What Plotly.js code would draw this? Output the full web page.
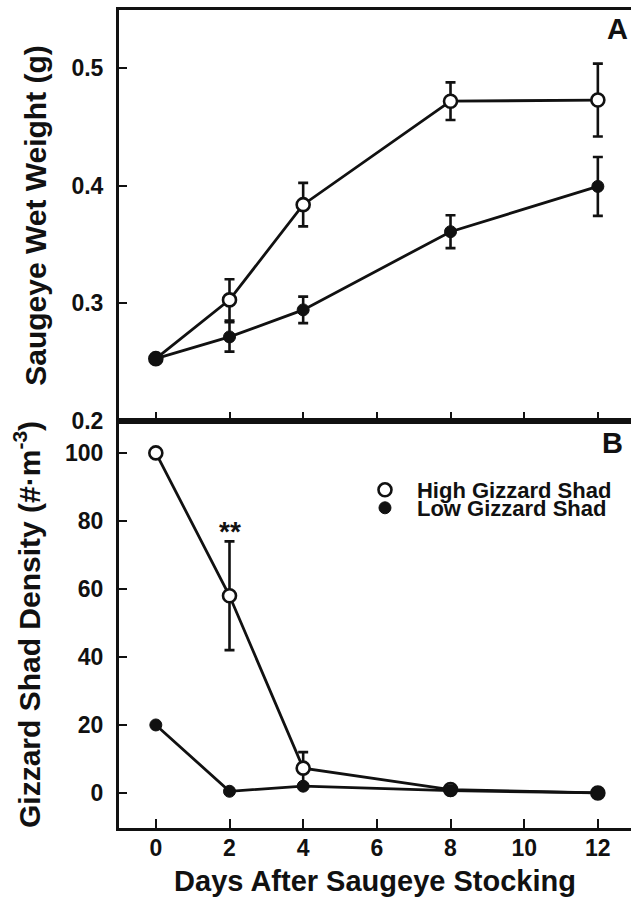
<!DOCTYPE html>
<html>
<head>
<meta charset="utf-8">
<script src="https://cdn.plot.ly/plotly-3.0.1.min.js"></script>
<style>
html,body{margin:0;padding:0;background:#fff;overflow:hidden}
#chart{width:631px;height:899px}
</style>
</head>
<body>
<div id="chart"></div>
<script>
// ---- data ----
const days = [0, 2, 4, 8, 12];
const seriesNames = ['High Gizzard Shad', 'Low Gizzard Shad'];

const weightHigh    = [0.253, 0.303, 0.384, 0.472, 0.473];
const weightHighErr = [0, 0.0175, 0.0185, 0.016, 0.031];
const weightLow     = [0.253, 0.2715, 0.2945, 0.361, 0.3995];
const weightLowErr  = [0, 0.0125, 0.0113, 0.014, 0.025];

const shadHigh    = [100, 58, 7.3, 1, 0];
const shadHighErr = [0, 16, 4.7, 0, 0];
const shadLow     = [20, 0.5, 2, 0.7, 0];
const shadLowErr  = [0, 0, 0, 0, 0];

const xTickVals = [0, 2, 4, 6, 8, 10, 12];
const xTickText = ['0', '2', '4', '6', '8', '10', '12'];
const weightTickVals = [0.2, 0.3, 0.4, 0.5];
const weightTickText = ['0.2', '0.3', '0.4', '0.5'];
const shadTickVals = [0, 20, 40, 60, 80, 100];
const shadTickText = ['0', '20', '40', '60', '80', '100'];

const panelLabels = ['A', 'B'];
const sigMark = {day: 2, value: 77, text: '**'};

// ---- style ----
const INK = '#111111';
const FONT = 'Liberation Sans, Arial, Helvetica, sans-serif';
function f(size) { return {size: size, family: FONT, weight: 'bold', color: INK}; }

function lineTrace(y, err, xa, ya) {
  return {
    x: days, y: y, mode: 'lines', xaxis: xa, yaxis: ya, showlegend: false,
    line: {color: INK, width: 2.8},
    error_y: {type: 'data', array: err, symmetric: true, color: INK, thickness: 2.6, width: 5},
    hoverinfo: 'skip'
  };
}
function openMarkers(y, xa, ya, name, show, lg) {
  return {
    x: days, y: y, mode: 'markers', xaxis: xa, yaxis: ya, name: name,
    showlegend: show, legend: lg,
    marker: {symbol: 'circle', size: 13, color: '#ffffff', line: {color: INK, width: 2.6}}
  };
}
function filledMarkers(y, xa, ya, name, show, lg) {
  return {
    x: days, y: y, mode: 'markers', xaxis: xa, yaxis: ya, name: name,
    showlegend: show, legend: lg,
    marker: {symbol: 'circle', size: 12, color: INK, line: {color: INK, width: 1}}
  };
}

const data = [
  lineTrace(weightHigh, weightHighErr, 'x', 'y'),
  lineTrace(weightLow, weightLowErr, 'x', 'y'),
  openMarkers(weightHigh, 'x', 'y', seriesNames[0], false, 'legend'),
  filledMarkers(weightLow, 'x', 'y', seriesNames[1], false, 'legend2'),
  lineTrace(shadHigh, shadHighErr, 'x2', 'y2'),
  lineTrace(shadLow, shadLowErr, 'x2', 'y2'),
  openMarkers(shadHigh, 'x2', 'y2', seriesNames[0], true, 'legend'),
  filledMarkers(shadLow, 'x2', 'y2', seriesNames[1], true, 'legend2')
];

const axisCommon = {
  showgrid: false, zeroline: false, showline: true, linewidth: 3, linecolor: INK,
  ticks: 'inside', tickwidth: 2, tickcolor: INK
};
const split = 0.4976;

const layout = {
  width: 631, height: 899,
  margin: {l: 119, r: 0, t: 10, b: 71},
  paper_bgcolor: '#ffffff', plot_bgcolor: '#ffffff',
  font: f(22),
  xaxis: Object.assign({}, axisCommon, {
    domain: [0, 1], anchor: 'y', range: [-1, 12.9], mirror: true,
    tickmode: 'array', tickvals: xTickVals, ticktext: xTickText, ticklen: 9,
    showticklabels: false
  }),
  yaxis: Object.assign({}, axisCommon, {
    domain: [split, 1], anchor: 'x', range: [0.2, 0.5496], mirror: false,
    tickmode: 'array', tickvals: weightTickVals, ticktext: weightTickText, ticklen: 8,
    tickfont: f(23), ticklabelstandoff: 8,
    title: {text: 'Saugeye Wet Weight (g)', font: f(30), standoff: 16}
  }),
  xaxis2: Object.assign({}, axisCommon, {
    domain: [0, 1], anchor: 'y2', range: [-1, 12.9], mirror: true,
    tickmode: 'array', tickvals: xTickVals, ticktext: xTickText, ticklen: 9,
    tickfont: f(23), ticklabelstandoff: -3,
    title: {text: 'Days After Saugeye Stocking', font: f(29), standoff: 12}
  }),
  yaxis2: Object.assign({}, axisCommon, {
    domain: [0, split], anchor: 'x2', range: [-10.3, 109.4], mirror: false,
    tickmode: 'array', tickvals: shadTickVals, ticktext: shadTickText, ticklen: 8,
    tickfont: f(23), ticklabelstandoff: 8,
    title: {text: 'Gizzard Shad Density (#·m<sup>-3</sup>)', font: f(30), standoff: 16}
  }),
  legend: {
    x: 0.457, y: 0.4132, xanchor: 'left', yanchor: 'middle', bgcolor: 'rgba(0,0,0,0)',
    borderwidth: 0, itemwidth: 54, font: f(22)
  },
  legend2: {
    x: 0.457, y: 0.3912, xanchor: 'left', yanchor: 'middle', bgcolor: 'rgba(0,0,0,0)',
    borderwidth: 0, itemwidth: 54, font: f(22)
  },
  annotations: [
    {xref: 'paper', yref: 'paper', x: 0.9727, y: 0.9768, text: panelLabels[0], showarrow: false,
     xanchor: 'center', yanchor: 'middle', font: f(29)},
    {xref: 'paper', yref: 'paper', x: 0.963, y: 0.4707, text: panelLabels[1], showarrow: false,
     xanchor: 'center', yanchor: 'middle', font: f(29)},
    {xref: 'x2', yref: 'y2', x: sigMark.day, y: sigMark.value, text: sigMark.text, showarrow: false,
     xanchor: 'center', yanchor: 'middle', font: f(28)}
  ]
};

Plotly.newPlot('chart', data, layout, {staticPlot: true, displayModeBar: false});
</script>
</body>
</html>
